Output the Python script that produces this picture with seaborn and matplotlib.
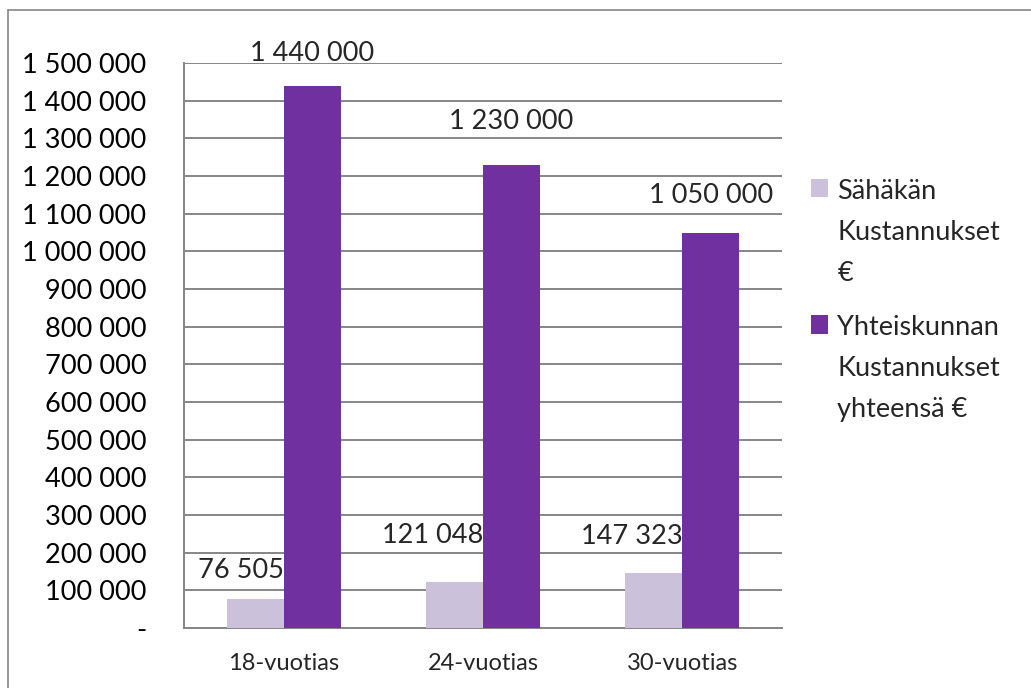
import numpy as np
import pandas as pd
import matplotlib
matplotlib.use("Agg")
import matplotlib.pyplot as plt
from matplotlib.lines import Line2D
from matplotlib.patches import Patch
from matplotlib.ticker import FixedLocator, FuncFormatter
import seaborn as sns

# Data
ages = ["18-vuotias", "24-vuotias", "30-vuotias"]
series = ["Sähäkän\nKustannukset\n€", "Yhteiskunnan\nKustannukset\nyhteensä €"]
sahakka = [76505, 121048, 147323]
yhteiskunta = [1440000, 1230000, 1050000]

colors = ["#CCC1DA", "#7030A0"]
grid_col = "#868686"

df = pd.DataFrame({
    "ika": ages * 2,
    "sarja": [series[0]] * 3 + [series[1]] * 3,
    "arvo": sahakka + yhteiskunta,
})

sns.set_style("white")
plt.rcParams["font.family"] = ["Lato", "DejaVu Sans"]
fs = 19.5


def fmt(v):
    return f"{int(v):,}".replace(",", " ")


fig = plt.figure(figsize=(10.31, 6.88), dpi=100)
ax = fig.add_axes([0.1785, 0.0872, 0.58, 0.8212])

sns.barplot(
    data=df, x="ika", y="arvo", hue="sarja",
    palette=colors, width=0.573, gap=0, saturation=1,
    linewidth=0, edgecolor="none",
    ax=ax, legend=False, zorder=3,
)

ax.set_ylim(0, 1500000)
ax.set_xlim(-0.5, 2.5)
ax.set_xlabel("")
ax.set_ylabel("")

# y axis: gridlines + outward ticks
ax.yaxis.set_major_locator(FixedLocator(np.arange(0, 1500001, 100000)))
ax.yaxis.set_major_formatter(FuncFormatter(lambda v, p: "-" if v == 0 else fmt(v)))
ax.grid(axis="y", color=grid_col, lw=1.4, zorder=0)
ax.set_axisbelow(True)
ax.tick_params(axis="y", length=7.2, width=1.4, color=grid_col,
               pad=20, labelsize=fs, labelcolor="black")

# x axis: boundary ticks, no ticks under labels
ax.set_xticks([0, 1, 2])
ax.set_xticklabels(ages)
ax.set_xticks([-0.5, 0.5, 1.5, 2.5], minor=True)
ax.tick_params(axis="x", which="major", length=0, pad=18, labelsize=17)
ax.tick_params(axis="x", which="minor", length=6.5, width=1.4, color=grid_col)

for s in ["top", "right"]:
    ax.spines[s].set_visible(False)
for s in ["left", "bottom"]:
    ax.spines[s].set_color(grid_col)
    ax.spines[s].set_linewidth(1.4)

# data labels
light_off = [29, 47, 36]
dark_off = [32, 43, 37]
for i, bar in enumerate(ax.containers[0]):
    x = bar.get_x() + bar.get_width()
    ax.annotate(fmt(sahakka[i]), (x, bar.get_height()),
                xytext=(0, light_off[i] * 0.72), textcoords="offset points",
                ha="right", va="center", fontsize=fs, annotation_clip=False)
for i, bar in enumerate(ax.containers[1]):
    x = bar.get_x() + bar.get_width() / 2
    ax.annotate(fmt(yhteiskunta[i]), (x, bar.get_height()),
                xytext=(0, dark_off[i] * 0.72), textcoords="offset points",
                ha="center", va="center", fontsize=fs, annotation_clip=False)

# legend
handles = [Patch(facecolor=c, edgecolor="none") for c in colors]
leg = ax.legend(handles, series, loc="upper left",
                bbox_to_anchor=(0.773, 0.760), bbox_transform=fig.transFigure,
                frameon=False, fontsize=fs, handlelength=0.66, handleheight=0.66,
                handletextpad=0.33, labelspacing=1.1, borderpad=0)
for t in leg.get_texts():
    t.set_linespacing(1.8)
for col in leg._legend_handle_box.get_children():
    for hp in col.get_children():
        hp.align = "top"

# outer border (top and left only, the rest is cropped)
fig.add_artist(Line2D([0.0078, 1.0], [0.9855, 0.9855], transform=fig.transFigure,
                      color=grid_col, lw=1.2))
fig.add_artist(Line2D([0.0078, 0.0078], [0.0, 0.9855], transform=fig.transFigure,
                      color=grid_col, lw=1.2))

fig.savefig("out.png", dpi=100)
